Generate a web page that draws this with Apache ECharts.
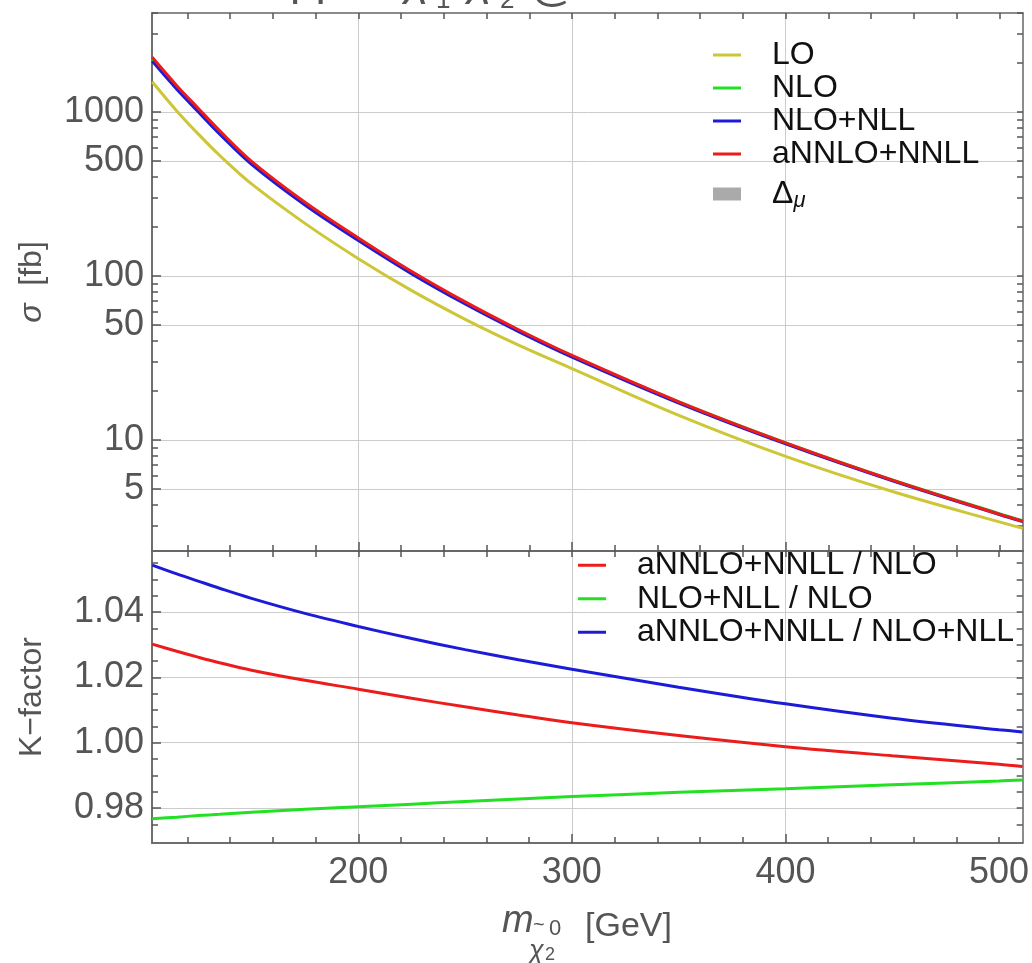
<!DOCTYPE html>
<html>
<head>
<meta charset="utf-8">
<script src="https://cdn.jsdelivr.net/npm/echarts@6/dist/echarts.min.js"></script>
<style>
  html, body { margin: 0; padding: 0; background: #fff; }
  #chart { width: 1032px; height: 963px; }
</style>
</head>
<body>
<div id="chart"></div>
<script>
// neutralino mass [GeV]
const mass = [103.5, 115, 125, 135, 150, 175, 200, 225, 250, 275, 300, 350, 400, 450, 500, 511];

// cross sections [fb]
const sigmaLO = [1524, 1012, 733, 543, 363, 208.7, 127.2, 81.2, 54.3, 37.8, 27.2, 14.11, 7.93, 4.84, 3.16, 2.89];
const sigmaNLO = [2085, 1404, 1024, 749.6, 488, 275.7, 167.3, 104.7, 68.5, 46.5, 32.5, 17.02, 9.59, 5.70, 3.549, 3.214];
const sigmaNLONLL = [2036, 1372, 1001, 733.2, 478, 270.1, 164.0, 102.7, 67.3, 45.7, 31.96, 16.76, 9.45, 5.63, 3.508, 3.178];
const sigmaANNLO = [2148, 1443, 1051, 768, 499, 281, 170, 106.1, 69.3, 46.9, 32.7, 17.06, 9.58, 5.68, 3.525, 3.19];

// K-factors
const kAnnloNlo = [1.0302, 1.0280, 1.0262, 1.0245, 1.0222, 1.0191, 1.0164, 1.0136, 1.0110, 1.0085, 1.0061, 1.0022, 0.9988, 0.9960, 0.9934, 0.9927];
const kNllNlo = [0.9767, 0.9772, 0.9777, 0.9781, 0.9787, 0.9796, 0.9804, 0.9812, 0.9820, 0.9828, 0.9835, 0.9848, 0.9859, 0.9871, 0.9883, 0.9886];
const kAnnloNll = [1.0544, 1.0517, 1.0495, 1.0473, 1.0442, 1.0396, 1.0356, 1.0319, 1.0285, 1.0254, 1.0225, 1.0170, 1.0119, 1.0075, 1.0040, 1.0033];

// ticks
const xLabels = [200, 300, 400, 500];
const xGridLines = [200, 300, 400];
const xMinor = [120, 140, 160, 180, 220, 240, 260, 280, 320, 340, 360, 380, 420, 440, 460, 480, 500];
const sigmaLabels = [5, 10, 50, 100, 500, 1000];
const sigmaMinor = [3, 4, 6, 7, 8, 9, 20, 30, 40, 60, 70, 80, 90, 200, 300, 400, 600, 700, 800, 900, 2000, 3000, 4000];
const kLabels = [0.98, 1.00, 1.02, 1.04];
const kMinor = [0.975, 0.985, 0.99, 0.995, 1.005, 1.01, 1.015, 1.025, 1.03, 1.035, 1.045, 1.05, 1.055];

const frame = '#666';
const gridColor = '#cccccc';
const labelColor = '#555';
const font = '"Liberation Sans", Arial, Helvetica, sans-serif';
const colors = { lo: '#cdc637', nlo: '#22e022', nll: '#1c1cd8', annlo: '#ec1c1c' };

const pairs = (ys) => mass.map((m, i) => [m, ys[i]]);

const axisLine = { show: true, onZero: false, lineStyle: { color: frame, width: 1.5 } };
const tickStyle = { color: '#555', width: 1.5 };

function makeXAxes(g, withLabels) {
  const base = { type: 'value', gridIndex: g, min: 103.4, max: 511.1, axisLine: axisLine };
  return [
    {
      ...base, position: 'bottom',
      axisTick: { show: true, inside: true, length: 9, customValues: xGridLines, lineStyle: tickStyle },
      splitLine: { show: true, lineStyle: { color: gridColor, width: 1 } },
      axisLabel: withLabels
        ? { show: true, customValues: xLabels, fontSize: 36, color: labelColor, fontFamily: font, margin: 12 }
        : { show: false }
    },
    {
      ...base, position: 'bottom',
      axisTick: { show: true, inside: true, length: 6, customValues: xMinor, lineStyle: tickStyle },
      splitLine: { show: false }, axisLabel: { show: false }
    },
    {
      ...base, position: 'top',
      axisTick: { show: true, inside: true, length: 6, customValues: xMinor.concat(xGridLines), lineStyle: tickStyle },
      splitLine: { show: false }, axisLabel: { show: false }
    }
  ];
}

const yAxes = [
  {
    type: 'log', logBase: 10, gridIndex: 0, position: 'left', min: 2.1, max: 4000,
    axisLine: axisLine,
    axisTick: { show: true, inside: true, length: 9, customValues: sigmaLabels, lineStyle: tickStyle },
    splitLine: { show: true, lineStyle: { color: gridColor, width: 1 } },
    axisLabel: { show: true, customValues: sigmaLabels, fontSize: 36, color: labelColor, fontFamily: font, margin: 8, formatter: (v) => String(v) },
    name: '{i|σ}  [fb]', nameLocation: 'middle', nameGap: 104, nameRotate: 90,
    nameTextStyle: { fontSize: 32, color: labelColor, fontFamily: font, rich: { i: { fontSize: 32, fontStyle: 'italic', color: labelColor, fontFamily: font } } }
  },
  {
    type: 'log', logBase: 10, gridIndex: 0, position: 'left', min: 2.1, max: 4000,
    axisLine: axisLine,
    axisTick: { show: true, inside: true, length: 6, customValues: sigmaMinor, lineStyle: tickStyle },
    splitLine: { show: false }, axisLabel: { show: false }
  },
  {
    type: 'log', logBase: 10, gridIndex: 0, position: 'right', min: 2.1, max: 4000,
    axisLine: axisLine,
    axisTick: { show: true, inside: true, length: 6, customValues: sigmaMinor.concat(sigmaLabels), lineStyle: tickStyle },
    splitLine: { show: false }, axisLabel: { show: false }
  },
  {
    type: 'value', gridIndex: 1, position: 'left', min: 0.9693, max: 1.0587,
    axisLine: axisLine,
    axisTick: { show: true, inside: true, length: 9, customValues: kLabels, lineStyle: tickStyle },
    splitLine: { show: true, lineStyle: { color: gridColor, width: 1 } },
    axisLabel: { show: true, customValues: kLabels, fontSize: 36, color: labelColor, fontFamily: font, margin: 8, formatter: (v) => v.toFixed(2) },
    name: 'K−factor', nameLocation: 'middle', nameGap: 104, nameRotate: 90,
    nameTextStyle: { fontSize: 32, color: labelColor, fontFamily: font }
  },
  {
    type: 'value', gridIndex: 1, position: 'left', min: 0.9693, max: 1.0587,
    axisLine: axisLine,
    axisTick: { show: true, inside: true, length: 6, customValues: kMinor, lineStyle: tickStyle },
    splitLine: { show: false }, axisLabel: { show: false }
  },
  {
    type: 'value', gridIndex: 1, position: 'right', min: 0.9693, max: 1.0587,
    axisLine: axisLine,
    axisTick: { show: true, inside: true, length: 6, customValues: kMinor.concat(kLabels), lineStyle: tickStyle },
    splitLine: { show: false }, axisLabel: { show: false }
  }
];

function line(name, data, color, xi, yi) {
  return {
    type: 'line', name: name, xAxisIndex: xi, yAxisIndex: yi, data: data,
    symbol: 'none', smooth: 0.35, clip: true,
    lineStyle: { width: 3, color: color }, itemStyle: { color: color }
  };
}

const legendText = { fontSize: 32, color: '#111', fontFamily: font, lineHeight: 33, padding: [0, 0, 0, 26] };
const titleFont = (size, italic) => (italic ? 'italic ' : '') + size + 'px "Liberation Sans", Arial, sans-serif';

const chart = echarts.init(document.getElementById('chart'), null, { renderer: 'canvas' });
chart.setOption({
  animation: false,
  backgroundColor: '#fff',
  grid: [
    { left: 152, right: 9, top: 13, height: 538 },
    { left: 152, right: 9, top: 551, height: 292 }
  ],
  xAxis: makeXAxes(0, false).concat(makeXAxes(1, true)),
  yAxis: yAxes,
  legend: [
    {
      orient: 'vertical', left: 713, top: 38.5, padding: 0, itemGap: 0,
      itemWidth: 28, itemHeight: 3, icon: 'rect', selectedMode: false,
      data: ['LO', 'NLO', 'NLO+NLL', 'aNNLO+NNLL'], textStyle: legendText
    },
    {
      orient: 'vertical', left: 713, top: 177.5, padding: 0, itemGap: 0,
      itemWidth: 28, itemHeight: 13, icon: 'rect', selectedMode: false,
      data: ['Δμ'],
      formatter: () => 'Δ{s|μ}',
      textStyle: {
        ...legendText,
        rich: { s: { fontSize: 22, fontStyle: 'italic', color: '#111', fontFamily: font, padding: [14, 0, 0, 0] } }
      }
    },
    {
      orient: 'vertical', left: 578, top: 548.5, padding: 0, itemGap: 0,
      itemWidth: 28, itemHeight: 3, icon: 'rect', selectedMode: false,
      data: ['aNNLO+NNLL / NLO', 'NLO+NLL / NLO', 'aNNLO+NNLL / NLO+NLL'],
      textStyle: { ...legendText, lineHeight: 33.5 }
    }
  ],
  series: [
    { type: 'line', name: 'Δμ', xAxisIndex: 0, yAxisIndex: 0, data: [], symbol: 'none', itemStyle: { color: '#aaaaaa' }, lineStyle: { color: '#aaaaaa' } },
    line('LO', pairs(sigmaLO), colors.lo, 0, 0),
    line('NLO', pairs(sigmaNLO), colors.nlo, 0, 0),
    line('NLO+NLL', pairs(sigmaNLONLL), colors.nll, 0, 0),
    line('aNNLO+NNLL', pairs(sigmaANNLO), colors.annlo, 0, 0),
    line('aNNLO+NNLL / NLO', pairs(kAnnloNlo), colors.annlo, 3, 3),
    line('NLO+NLL / NLO', pairs(kNllNlo), colors.nlo, 3, 3),
    line('aNNLO+NNLL / NLO+NLL', pairs(kAnnloNll), colors.nll, 3, 3)
  ],
  graphic: [
    // title, cut off at the top edge: only descenders remain visible
    { type: 'text', x: 290, y: 4, style: { text: 'pp →', font: titleFont(46), fill: labelColor, verticalAlign: 'bottom' } },
    { type: 'text', x: 405, y: 4, style: { text: 'χ', font: titleFont(46, true), fill: labelColor, verticalAlign: 'bottom' } },
    { type: 'text', x: 436, y: 14, style: { text: '1', font: titleFont(26), fill: labelColor, verticalAlign: 'bottom' } },
    { type: 'text', x: 436, y: -22, style: { text: '±', font: titleFont(26), fill: labelColor, verticalAlign: 'bottom' } },
    { type: 'text', x: 468, y: 4, style: { text: 'χ', font: titleFont(46, true), fill: labelColor, verticalAlign: 'bottom' } },
    { type: 'text', x: 500, y: 14, style: { text: '2', font: titleFont(26), fill: labelColor, verticalAlign: 'bottom' } },
    { type: 'text', x: 500, y: -22, style: { text: '0', font: titleFont(26), fill: labelColor, verticalAlign: 'bottom' } },
    { type: 'text', x: 530, y: 11, style: { text: '@', font: titleFont(46), fill: labelColor, verticalAlign: 'bottom' } },
    { type: 'text', x: 590, y: 4, style: { text: '√s = 13 TeV', font: titleFont(46), fill: labelColor, verticalAlign: 'bottom' } },
    // x axis title
    { type: 'text', x: 502, y: 921, style: { text: 'm', font: titleFont(38, true), fill: labelColor, verticalAlign: 'middle' } },
    { type: 'text', x: 533, y: 925, style: { text: '~', font: titleFont(20), fill: labelColor, verticalAlign: 'middle' } },
    { type: 'text', x: 549, y: 929, style: { text: '0', font: titleFont(22), fill: labelColor, verticalAlign: 'middle' } },
    { type: 'text', x: 529, y: 951, style: { text: 'χ', font: titleFont(27, true), fill: labelColor, verticalAlign: 'middle' } },
    { type: 'text', x: 545, y: 955, style: { text: '2', font: titleFont(18), fill: labelColor, verticalAlign: 'middle' } },
    { type: 'text', x: 585, y: 927, style: { text: '[GeV]', font: titleFont(34), fill: labelColor, verticalAlign: 'middle' } }
  ]
});
</script>
</body>
</html>
